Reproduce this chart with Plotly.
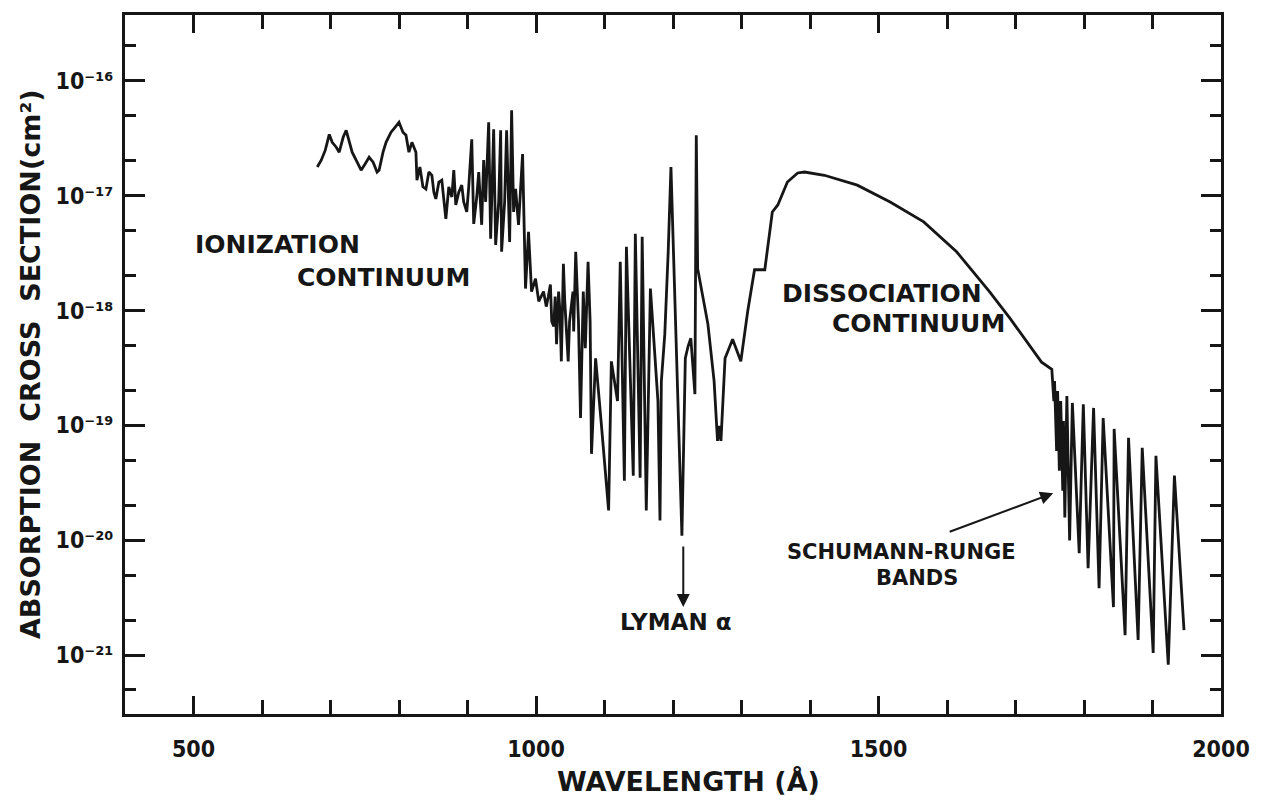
import plotly.graph_objects as go

# O2 absorption cross section (cm^2) against wavelength (angstrom), by region

# ionization continuum, 680-1000 A
ion_wl = [
    680.7, 686.5, 692.4, 698.2, 702.5, 708.4, 712.7, 718.5, 722.9, 727.3,
    731.6, 738.9, 744.7, 750.5, 756.4, 762.2, 768.0, 770.9, 776.7, 781.1,
    788.4, 794.2, 800.0, 805.8, 810.2, 814.5, 818.9, 824.7, 826.2, 830.5,
    834.9, 839.3, 843.6, 848.0, 850.9, 853.8, 858.2, 862.5, 865.5, 868.4,
    872.7, 877.1, 880.0, 882.9, 887.3, 891.6, 894.5, 898.9, 901.8, 906.2,
    909.1, 913.5, 916.4, 920.7, 923.6, 926.5, 930.9, 933.8, 938.2, 941.1,
    945.5, 948.4, 949.8, 954.2, 957.1, 961.5, 964.4, 967.3, 970.2, 974.5,
    980.4, 984.7, 989.1, 993.5, 999.3,
]
ion_sigma = [
    1.77e-17, 2.03e-17, 2.48e-17, 3.40e-17, 2.90e-17, 2.63e-17, 2.38e-17, 3.21e-17, 3.69e-17, 2.90e-17,
    2.38e-17, 1.95e-17, 1.66e-17, 1.88e-17, 2.15e-17, 1.95e-17, 1.60e-17, 1.66e-17, 2.38e-17, 2.90e-17,
    3.55e-17, 3.92e-17, 4.33e-17, 3.55e-17, 3.34e-17, 2.38e-17, 2.90e-17, 2.38e-17, 1.36e-17, 1.77e-17,
    1.19e-17, 1.14e-17, 1.60e-17, 1.50e-17, 1.07e-17, 9.33e-18, 1.31e-17, 1.36e-17, 9.70e-18, 6.27e-18,
    1.19e-17, 9.70e-18, 1.66e-17, 8.28e-18, 1.07e-17, 1.23e-17, 8.79e-18, 7.19e-18, 1.19e-17, 3.08e-17,
    5.66e-18, 9.70e-18, 1.60e-17, 5.56e-18, 2.03e-17, 8.79e-18, 4.33e-17, 4.20e-18, 3.77e-17, 3.72e-18,
    8.79e-18, 3.69e-17, 3.24e-18, 8.79e-18, 3.69e-17, 3.95e-18, 5.50e-17, 7.19e-18, 1.14e-17, 5.56e-18,
    2.29e-17, 1.55e-18, 4.83e-18, 1.46e-18, 1.89e-18,
]

# Rydberg bands and windows, 1000-1330 A (Lyman alpha at 1216 A)
band_wl = [
    1004, 1011, 1015, 1018, 1021, 1023, 1026, 1028, 1030, 1033,
    1035, 1037, 1040, 1042, 1044, 1047, 1049, 1052, 1054, 1055,
    1058, 1062, 1065, 1069, 1072, 1076, 1079, 1081, 1087, 1095,
    1106, 1110, 1119, 1123, 1129, 1132, 1142, 1145, 1152, 1155,
    1161, 1167, 1171, 1174, 1178, 1181, 1183, 1188, 1193, 1197,
    1213, 1218, 1222, 1226, 1232, 1234, 1236, 1251, 1260, 1265,
    1268, 1270, 1276, 1287, 1299, 1309, 1319, 1334,
]
band_sigma = [
    1.20e-18, 1.46e-18, 1.08e-18, 1.32e-18, 1.68e-18, 8.04e-19, 7.26e-19, 1.32e-18, 5.08e-19, 1.46e-18,
    9.79e-19, 3.61e-19, 2.55e-18, 1.20e-18, 6.58e-19, 3.61e-19, 8.04e-19, 1.20e-18, 1.46e-18, 6.58e-19,
    3.24e-18, 8.04e-19, 1.16e-19, 1.46e-18, 4.69e-19, 2.65e-18, 8.04e-19, 5.66e-20, 3.84e-19, 1.09e-19,
    1.82e-20, 3.61e-19, 1.63e-19, 2.65e-18, 3.30e-20, 3.58e-18, 3.66e-20, 4.65e-18, 3.51e-20, 4.38e-18,
    1.82e-20, 1.55e-18, 6.58e-19, 4.16e-19, 1.63e-19, 1.49e-20, 2.43e-19, 6.19e-19, 3.24e-18, 1.77e-17,
    1.10e-20, 3.84e-19, 4.88e-19, 5.73e-19, 1.87e-19, 3.34e-17, 2.31e-18, 7.57e-19, 2.43e-19, 7.35e-20,
    9.90e-20, 7.35e-20, 3.84e-19, 5.61e-19, 3.61e-19, 9.79e-19, 2.26e-18, 2.26e-18,
]

# Schumann-Runge continuum, 1340-1750 A
cont_wl = [1345, 1353, 1367, 1382, 1392, 1421, 1469, 1517, 1566, 1614, 1662, 1692, 1716, 1738, 1753]
cont_sigma = [7.19e-18, 8.28e-18, 1.31e-17, 1.57e-17, 1.60e-17, 1.50e-17, 1.23e-17, 8.79e-18,
              5.90e-18, 3.24e-18, 1.46e-18, 8.53e-19, 5.40e-19, 3.55e-19, 3.08e-19]

# Schumann-Runge bands, 1750-1950 A
sr_wl = [
    1756, 1757, 1760, 1761.5, 1764, 1766, 1769, 1770, 1772, 1775,
    1779, 1783, 1793, 1799, 1806, 1814, 1822, 1828, 1843, 1844,
    1860, 1865, 1879, 1885, 1901, 1905, 1923, 1932, 1946,
]
sr_sigma = [
    1.63e-19, 2.43e-19, 6.01e-20, 1.99e-19, 4.04e-20, 1.63e-19, 2.71e-20, 1.09e-19, 1.58e-20, 1.80e-19,
    1.00e-20, 1.57e-19, 7.73e-21, 1.53e-19, 5.73e-21, 1.42e-19, 3.84e-21, 1.16e-19, 2.63e-21, 9.33e-20,
    1.50e-21, 7.80e-20, 1.36e-21, 6.38e-20, 1.05e-21, 5.44e-20, 8.28e-22, 3.66e-20, 1.66e-21,
]

wavelength_A = ion_wl + band_wl + cont_wl + sr_wl
cross_section_cm2 = ion_sigma + band_sigma + cont_sigma + sr_sigma

x_major = [500, 1000, 1500, 2000]
x_minor = [v for v in range(500, 2000, 100) if v % 500 != 0]
x_labels = ["500", "1000", "1500", "2000"]

y_major = [1e-21, 1e-20, 1e-19, 1e-18, 1e-17, 1e-16]
y_minor = [5e-22, 2e-21, 5e-21, 2e-20, 5e-20, 2e-19, 5e-19, 2e-18, 5e-18,
           2e-17, 5e-17, 2e-16]
y_labels = ["10⁻²¹", "10⁻²⁰", "10⁻¹⁹", "10⁻¹⁸", "10⁻¹⁷", "10⁻¹⁶"]

INK = "#161616"
TICK_FONT = "DejaVu Sans Condensed, DejaVu Sans"
LABEL_FONT = "DejaVu Sans"

fig = go.Figure()
fig.add_trace(go.Scatter(
    x=wavelength_A, y=cross_section_cm2, mode="lines",
    line=dict(color=INK, width=2.8), hoverinfo="skip", showlegend=False,
))

axis_common = dict(
    showline=True, linewidth=3, linecolor=INK, mirror="allticks",
    ticks="inside", tickwidth=2.5, tickcolor=INK, showgrid=False, zeroline=False,
    tickfont=dict(family=TICK_FONT, size=23, color=INK, weight="bold"),
)

fig.update_xaxes(
    range=[400, 2000], tickmode="array", tickvals=x_major, ticktext=x_labels,
    ticklen=18, ticklabelstandoff=12,
    minor=dict(tickmode="array", tickvals=x_minor, ticks="inside", ticklen=14,
               tickwidth=2.5, tickcolor=INK, showgrid=False),
    **axis_common,
)
fig.update_yaxes(
    type="log", range=[-21.51, -15.43], tickmode="array", tickvals=y_major,
    ticktext=y_labels, ticklen=20, ticklabelstandoff=4,
    minor=dict(tickmode="array", tickvals=y_minor, ticks="inside", ticklen=11,
               tickwidth=2.5, tickcolor=INK, showgrid=False),
    **axis_common,
)


def label_font(size):
    return dict(family=LABEL_FONT, size=size, color=INK, weight="bold")


texts = [
    ("IONIZATION", 622, -17.43, 25),
    ("CONTINUUM", 778, -17.71, 25),
    ("DISSOCIATION", 1505, -17.85, 25),
    ("CONTINUUM", 1559, -18.11, 25),
    ("SCHUMANN-RUNGE", 1534, -20.10, 21),
    ("BANDS", 1556, -20.33, 21),
    ("LYMAN α", 1204, -20.71, 23),
]
annotations = [
    dict(x=lx, y=ly, xref="x", yref="y", text=t, showarrow=False,
         font=label_font(sz), xanchor="center", yanchor="middle")
    for t, lx, ly, sz in texts
]
# arrows pointing at Lyman alpha and the Schumann-Runge bands
annotations += [
    dict(x=1215, y=-20.58, xref="x", yref="y", ax=0, ay=-62, text="",
         showarrow=True, arrowhead=2, arrowsize=1.3, arrowwidth=2, arrowcolor=INK),
    dict(x=1755, y=-19.59, xref="x", yref="y", ax=-105, ay=39, text="",
         showarrow=True, arrowhead=2, arrowsize=1.3, arrowwidth=2, arrowcolor=INK),
]
# axis titles
annotations += [
    dict(x=0.514, y=-0.097, xref="paper", yref="paper",
         text="WAVELENGTH (Å)", showarrow=False,
         font=label_font(27), xanchor="center", yanchor="middle"),
    dict(x=-0.0855, y=0.501, xref="paper", yref="paper", textangle=-90,
         text="ABSORPTION  CROSS  SECTION(cm²)", showarrow=False,
         font=label_font(27), xanchor="center", yanchor="middle"),
]

fig.update_layout(
    width=1262, height=800,
    margin=dict(l=125, r=37, t=12, b=86),
    paper_bgcolor="white", plot_bgcolor="white",
    annotations=annotations,
    showlegend=False,
)

fig.write_html("out.html", config={"displayModeBar": False})
